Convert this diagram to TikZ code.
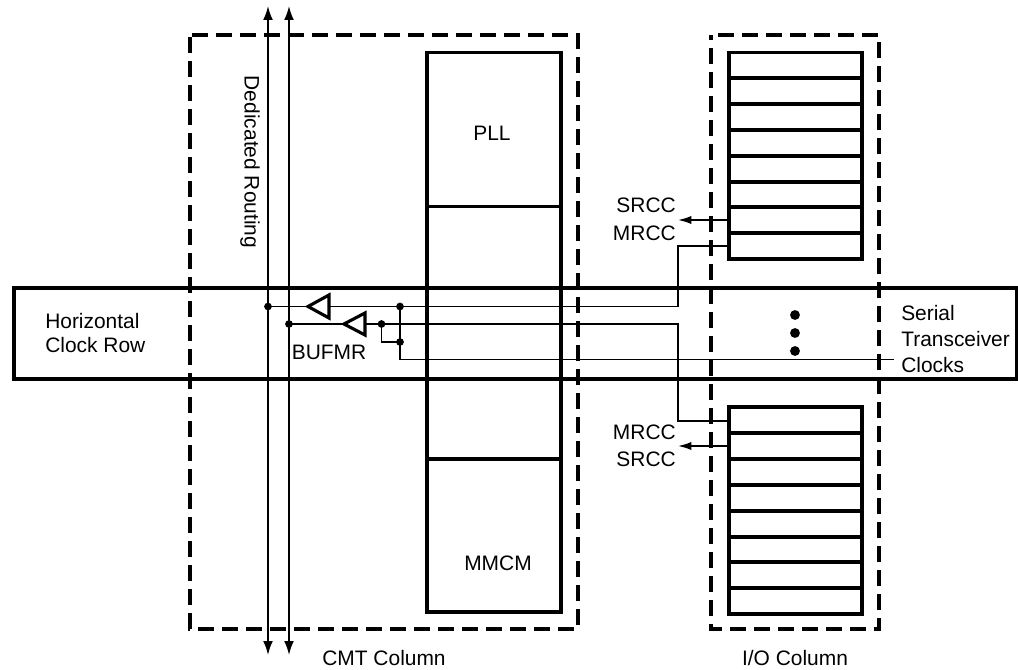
\documentclass[tikz,border=0pt]{standalone}
\usepackage{fontspec}
\setmainfont{Liberation Sans}
\usetikzlibrary{arrows.meta}
\tikzset{
  x=0.75pt,y=-0.75pt,
  thickline/.style={line width=2.35pt},
  wire/.style={line width=1.3pt},
  dashbox/.style={line width=2.35pt,dash pattern=on 12pt off 6pt},
  tipped/.style={-{Latex[length=10pt,width=6.2pt]}},
  bothtipped/.style={{Latex[length=10.5pt,width=7.4pt]}-{Latex[length=10.5pt,width=7.4pt]}},
  arrowwire/.style={wire,tipped},
  dot/.style={circle,fill=black,inner sep=0pt,minimum size=5.8pt},
  lbl/.style={font=\fontsize{15.7}{18}\selectfont,inner sep=0pt},
  bufshape/.style={thickline,line join=miter,fill=white},
}
\begin{document}
\begin{tikzpicture}
\useasboundingbox (0,0) rectangle (1018,670);
% coordinates
\coordinate (rowTL) at (14,288); \coordinate (rowBL) at (14,379);
\coordinate (rowTR) at (1017,288); \coordinate (rowBR) at (1017,379);
\coordinate (r1t) at (268,6); \coordinate (r1b) at (268,655);
\coordinate (r2t) at (289,6); \coordinate (r2b) at (289,655);
% row
\draw[thickline] (rowTL) -- (rowTR) -- (rowBR) -- (rowBL) -- cycle;
% dashed columns
\draw[dashbox,dash phase=16.5pt] (190,35) -- (578,35) -- (578,629) -- (190,629) -- cycle;
\draw[dashbox,dash phase=12.75pt] (711,35) -- (879,35) -- (879,629) -- (711,629) -- cycle;
% CMT blocks
\draw[thickline] (427,52.5) rectangle (561,612);
\draw[thickline] (427,206.5) -- (561,206.5);
\draw[thickline] (427,459) -- (561,459);
% IO blocks
\draw[thickline] (729,52.5) rectangle (862,259);
\foreach \yy in {78,104,130,156,182,207,233} \draw[thickline] (729,\yy) -- (862,\yy);
\draw[thickline] (729,407) rectangle (862,614);
\foreach \yy in {433,459,485,511,537,562,588} \draw[thickline] (729,\yy) -- (862,\yy);
% routing
\draw[wire,bothtipped] (r1t) -- (r1b);
\draw[wire,bothtipped] (r2t) -- (r2b);
% junctions
\node[dot] (j1) at (268,306.5) {};
\node[dot] (j2) at (289,324) {};
\node[dot] (j3) at (400,306.5) {};
\node[dot] (j4) at (381.5,324) {};
\node[dot] (j5) at (400,342) {};
\coordinate (c1) at (678,306.5); \coordinate (c2) at (678,246); \coordinate (c3) at (729,246);
\coordinate (c4) at (678,324); \coordinate (c5) at (678,421); \coordinate (c6) at (729,421);
\coordinate (c7) at (381.5,342); \coordinate (c8) at (400,359.5); \coordinate (c9) at (894,359.5);
\coordinate (s1) at (729,220); \coordinate (s1e) at (678,220);
\coordinate (s2) at (729,446); \coordinate (s2e) at (678,446);
\draw[wire] (j1.center) -- (c1) -- (c2) -- (c3);
\draw[wire] (j2.center) -- (c4) -- (c5) -- (c6);
\draw[wire] (j4.center) -- (c7) -- (j5.center);
\draw[wire] (j3.center) -- (c8) -- (c9);
\draw[arrowwire] (s1) -- (s1e);
\draw[arrowwire] (s2) -- (s2e);
% buffers
\draw[bufshape] (308,306.5) -- (329,295) -- (329,318) -- cycle;
\draw[bufshape] (344,324) -- (365,313) -- (365,335) -- cycle;
% ellipsis dots
\node[dot,minimum size=7.4pt] (e1) at (795,315) {};
\node[dot,minimum size=7.4pt] (e2) at (795,333) {};
\node[dot,minimum size=7.4pt] (e3) at (795,351) {};
% labels
\node[lbl] (pll) at (492,133) {PLL};
\node[lbl] (mmcm) at (498,563) {MMCM};
\node[lbl,rotate=-90] (ded) at (250,162) {Dedicated Routing};
\node[lbl,anchor=east] (l1) at (676,205) {SRCC};
\node[lbl,anchor=east] (l2) at (676,233) {MRCC};
\node[lbl,anchor=east] (l3) at (676,432) {MRCC};
\node[lbl,anchor=east] (l4) at (676,459) {SRCC};
\node[lbl,anchor=west] (h1) at (45,321) {Horizontal};
\node[lbl,anchor=west] (h2) at (45,345) {Clock Row};
\node[lbl] (buf) at (329,352) {BUFMR};
\node[lbl,anchor=west] (t1) at (901,313) {Serial};
\node[lbl,anchor=west] (t2) at (901,339) {Transceiver};
\node[lbl,anchor=west] (t3) at (901,365) {Clocks};
\node[lbl] (cmt) at (384,658) {CMT Column};
\node[lbl] (io) at (795,658) {I/O Column};
\end{tikzpicture}
\end{document}
